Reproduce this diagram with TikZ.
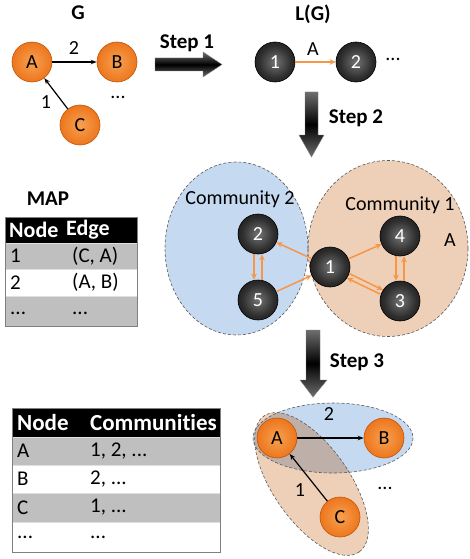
\documentclass[tikz,border=0pt]{standalone}
\usepackage{fontspec}
\setmainfont{Carlito}[Ligatures={NoCommon}]
\usetikzlibrary{arrows.meta,shapes.geometric}
\definecolor{orng}{RGB}{247,150,70}
\definecolor{bluefill}{RGB}{197,217,241}
\definecolor{peachfill}{RGB}{238,207,183}
\definecolor{overlapfill}{RGB}{190,175,168}
\definecolor{rowgray}{RGB}{191,191,191}
\definecolor{obord}{RGB}{190,85,15}
\definecolor{arrgray}{RGB}{110,110,110}
\pgfdeclareradialshading{orangeball}{\pgfpoint{0bp}{0bp}}{rgb(0bp)=(0.97,0.63,0.32);rgb(24bp)=(0.93,0.47,0.12);rgb(42bp)=(0.86,0.38,0.04);rgb(50bp)=(0.78,0.33,0.02)}
\pgfdeclareradialshading{blackball}{\pgfpoint{0bp}{0bp}}{rgb(0bp)=(0.45,0.45,0.45);rgb(20bp)=(0.18,0.18,0.18);rgb(38bp)=(0.05,0.05,0.05);rgb(50bp)=(0.0,0.0,0.0)}
\tikzset{
  obal/.style={circle, minimum size=40pt, inner sep=0pt, shading=orangeball, draw=obord, line width=0.6pt, font=\fontsize{20}{24}\selectfont},
  bbal/.style={circle, minimum size=40pt, inner sep=0pt, shading=blackball, draw=black, line width=0.6pt, text=white, font=\fontsize{20}{24}\selectfont},
  oarr/.style={draw=orng, line width=1.5pt, -{Stealth[length=6pt,width=5.5pt]}},
  karr/.style={draw=black, line width=1.2pt, -{Stealth[length=6pt,width=4.5pt]}},
  lbl/.style={font=\fontsize{20}{24}\selectfont, inner sep=0pt},
  tlbl/.style={font=\fontsize{21}{25}\selectfont, inner sep=0pt, anchor=west},
  thdr/.style={font=\bfseries\fontsize{22}{26}\selectfont, inner sep=0pt, anchor=west, text=white},
  ttl/.style={font=\bfseries\fontsize{21}{25}\selectfont, inner sep=0pt},
  bigarrow/.style={top color=arrgray, bottom color=arrgray, middle color=black, draw=gray, line width=0.4pt},
  regionborder/.style={draw=black!65, densely dashed, line width=0.6pt},
  rowline/.style={draw=white!75!gray, line width=0.8pt}
}
\begin{document}
\begin{tikzpicture}[x=1pt,y=-1pt]
\useasboundingbox (0,0) rectangle (470,559);

% ---------- G ----------
\node[ttl] (tG) at (78,13) {G};
\node[obal] (gA) at (32,62) {A};
\node[obal] (gB) at (117,62) {B};
\node[obal] (gC) at (80,125) {C};
\draw[karr] (gA) -- (gB);
\draw[karr] (gC) -- (gA);
\node[lbl] (g2) at (74,48) {2};
\node[lbl] (g1) at (46,102) {1};
\node[lbl] (gdots) at (118,97) {...};

% ---------- Step 1 ----------
\shade[bigarrow] (155,58) -- (203,58) -- (203,52) -- (222,64.5) -- (203,77) -- (203,71) -- (155,71) -- cycle;
\node[ttl] (s1) at (187,43) {Step 1};

% ---------- L(G) ----------
\node[ttl] (tL) at (313,14) {L(G)};
\node[bbal] (l1) at (275,62) {1};
\node[bbal] (l2) at (356,62) {2};
\draw[oarr] (l1) -- (l2);
\node[lbl] (lA) at (313,49) {A};
\node[lbl] (ldots) at (393,59) {...};

% ---------- Step 2 ----------
\shade[bigarrow] (305,92) -- (318,92) -- (318,135) -- (324,135) -- (311.5,157) -- (299,135) -- (305,135) -- cycle;
\node[ttl] (s2) at (356,118) {Step 2};

% ---------- Communities ----------
\fill[peachfill] (388,248.5) ellipse [x radius=80, y radius=88];
\fill[bluefill] (236.5,248.5) ellipse [x radius=71.5, y radius=86.5];
\draw[regionborder] (388,248.5) ellipse [x radius=80, y radius=88];
\draw[regionborder] (236.5,248.5) ellipse [x radius=71.5, y radius=86.5];
\node[lbl] (c2lbl) at (240,199) {Community 2};
\node[lbl] (c1lbl) at (400,205) {Community 1};
\node[lbl] (cA) at (450,240) {A};
\node[bbal] (n2) at (258,234) {2};
\node[bbal] (n5) at (258,300) {5};
\node[bbal] (n1) at (330,267) {1};
\node[bbal] (n4) at (400,236) {4};
\node[bbal] (n3) at (400,301) {3};
\draw[oarr] (n1) -- (n2);
\draw[oarr] (n5) -- (n1);
\draw[oarr] (n1) -- (n4);
\draw[oarr] ([shift={(64:2.5pt)}]n1.-26) -- ([shift={(64:2.5pt)}]n3.154);
\draw[oarr] ([shift={(-116:2.5pt)}]n3.154) -- ([shift={(-116:2.5pt)}]n1.-26);
\draw[oarr] ([xshift=-4pt]n2.south) -- ([xshift=-4pt]n5.north);
\draw[oarr] ([xshift=4pt]n5.north) -- ([xshift=4pt]n2.south);
\draw[oarr] ([xshift=-4pt]n4.south) -- ([xshift=-4pt]n3.north);
\draw[oarr] ([xshift=4pt]n3.north) -- ([xshift=4pt]n4.south);

% ---------- MAP table ----------
\node[ttl] (tMAP) at (48,199) {MAP};
\fill[black] (5,217) rectangle (137,243);
\fill[rowgray] (5,243) rectangle (137,269);
\fill[white] (5,269) rectangle (137,296);
\fill[rowgray] (5,296) rectangle (137,326);
\draw[rowline] (5,243) -- (137,243) (5,269) -- (137,269) (5,296) -- (137,296);
\draw[gray, line width=0.6pt] (5,217) rectangle (137,326);
\node[thdr] (m00) at (9,230) {Node};
\node[thdr] (m01) at (66,230) {Edge};
\node[tlbl] (m10) at (10,256) {1};
\node[tlbl] (m11) at (72,256) {(C, A)};
\node[tlbl] (m20) at (10,282.5) {2};
\node[tlbl] (m21) at (72,282.5) {(A, B)};
\node[tlbl] (m30) at (10,313) {...};
\node[tlbl] (m31) at (72,313) {...};

% ---------- Step 3 ----------
\shade[bigarrow] (306,330) -- (320,330) -- (320,380) -- (327,380) -- (313,397) -- (300,380) -- (306,380) -- cycle;
\node[ttl] (s3) at (357,362) {Step 3};

% ---------- Communities table ----------
\fill[black] (12,408) rectangle (220,437);
\fill[rowgray] (12,437) rectangle (220,465);
\fill[white] (12,465) rectangle (220,493);
\fill[rowgray] (12,493) rectangle (220,522);
\fill[white] (12,522) rectangle (220,552);
\draw[rowline] (12,437) -- (220,437) (12,465) -- (220,465) (12,493) -- (220,493) (12,522) -- (220,522);
\draw[gray, line width=0.6pt] (12,408) rectangle (220,552);
\node[thdr, font=\bfseries\fontsize{23}{27}\selectfont] (k00) at (17,422.5) {Node};
\node[thdr, font=\bfseries\fontsize{23}{27}\selectfont] (k01) at (90,422.5) {Communities};
\node[tlbl] (k10) at (17,451) {A};
\node[tlbl] (k11) at (90,451) {1, 2, ...};
\node[tlbl] (k20) at (17,479) {B};
\node[tlbl] (k21) at (90,479) {2, ...};
\node[tlbl] (k30) at (17,507.5) {C};
\node[tlbl] (k31) at (90,507.5) {1, ...};
\node[tlbl] (k40) at (17,537) {...};
\node[tlbl] (k41) at (90,537) {...};

% ---------- Bottom graph ----------
\fill[bluefill] (333,438) ellipse [x radius=80, y radius=35];
\fill[peachfill] (311.5,484) ellipse [x radius=83, y radius=38, rotate=-55];
\begin{scope}
  \clip (333,438) ellipse [x radius=80, y radius=35];
  \fill[overlapfill] (311.5,484) ellipse [x radius=83, y radius=38, rotate=-55];
\end{scope}
\draw[regionborder] (333,438) ellipse [x radius=80, y radius=35];
\draw[regionborder] (311.5,484) ellipse [x radius=83, y radius=38, rotate=-55];
\node[obal] (bA) at (277,438) {A};
\node[obal] (bB) at (384,438) {B};
\node[obal] (bC) at (340,517) {C};
\draw[karr] (bA) -- (bB);
\draw[karr] (bC) -- (bA);
\node[lbl] (b2) at (329,414) {2};
\node[lbl] (b1) at (300,490) {1};
\node[lbl] (bdots) at (385,488) {...};
\end{tikzpicture}
\end{document}
